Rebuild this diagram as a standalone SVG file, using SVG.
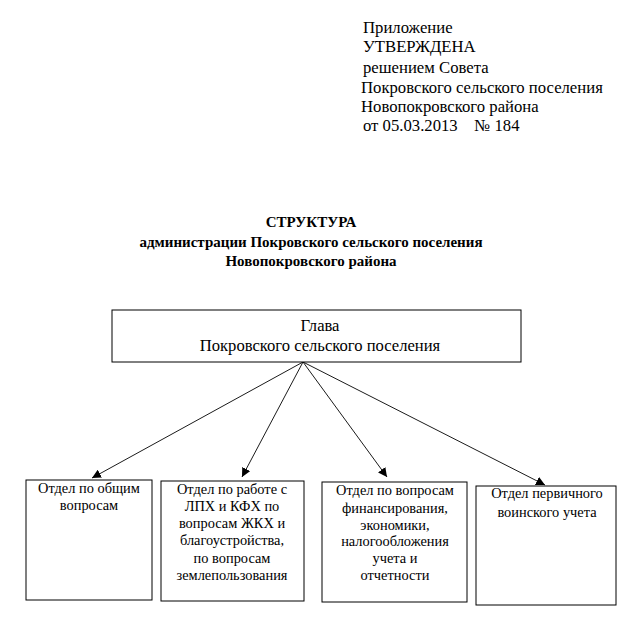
<svg xmlns="http://www.w3.org/2000/svg" width="640" height="628" viewBox="0 0 640 628">
<style>
text{font-family:"Liberation Serif","Times New Roman",serif;fill:#000}
.h{font-size:16.7px}
.t{font-size:15px;font-weight:bold;text-anchor:middle}
.m{font-size:16.6px;text-anchor:middle}
.b{font-size:14.4px;text-anchor:middle}
.box{fill:#fff;stroke:#000;stroke-width:1}
.c{stroke:#000;stroke-width:0.9;fill:none;marker-end:url(#a)}
</style>
<defs>
<marker id="a" viewBox="0 0 10 10" refX="10" refY="5" markerWidth="9" markerHeight="9" markerUnits="userSpaceOnUse" orient="auto">
<path d="M0,0 L10,5 L0,10 z" fill="#000"/>
</marker>
</defs>
<rect width="640" height="628" fill="#fff"/>
<g id="header">
<text class="h" x="363" y="33">Приложение</text>
<text class="h" x="363" y="52">УТВЕРЖДЕНА</text>
<text class="h" x="363" y="73">решением Совета</text>
<text class="h" x="361" y="93">Покровского сельского поселения</text>
<text class="h" x="361" y="112">Новопокровского района</text>
<text class="h" x="363" y="131" xml:space="preserve">от 05.03.2013    № 184</text>
</g>
<g id="title">
<text class="t" x="311" y="227">СТРУКТУРА</text>
<text class="t" x="311" y="247">администрации Покровского сельского поселения</text>
<text class="t" x="311" y="266">Новопокровского района</text>
</g>
<g id="connectors">
<line class="c" x1="303" y1="362" x2="92" y2="478"/>
<line class="c" x1="303" y1="362" x2="242" y2="477"/>
<line class="c" x1="303" y1="362" x2="387" y2="477"/>
<line class="c" x1="303" y1="362" x2="545" y2="485"/>
</g>
<g id="head">
<rect class="box" x="112" y="310" width="409" height="52"/>
<text class="m" x="320" y="331">Глава</text>
<text class="m" x="320" y="351">Покровского сельского поселения</text>
</g>
<g id="dept1">
<rect class="box" x="26" y="480" width="126" height="120"/>
<text class="b" x="89" y="493">Отдел по общим</text>
<text class="b" x="89" y="510">вопросам</text>
</g>
<g id="dept2">
<rect class="box" x="161" y="481" width="143" height="120"/>
<text class="b" x="232" y="494">Отдел по работе с</text>
<text class="b" x="232" y="511">ЛПХ и КФХ по</text>
<text class="b" x="232" y="528">вопросам ЖКХ и</text>
<text class="b" x="232" y="545">благоустройства,</text>
<text class="b" x="232" y="563">по вопросам</text>
<text class="b" x="232" y="580">землепользования</text>
</g>
<g id="dept3">
<rect class="box" x="322" y="482" width="145" height="120"/>
<text class="b" x="395" y="495">Отдел по вопросам</text>
<text class="b" x="395" y="513">финансирования,</text>
<text class="b" x="395" y="530">экономики,</text>
<text class="b" x="395" y="546">налогообложения</text>
<text class="b" x="395" y="563">учета и</text>
<text class="b" x="395" y="580">отчетности</text>
</g>
<g id="dept4">
<rect class="box" x="476" y="486" width="140" height="119"/>
<text class="b" x="547" y="498">Отдел первичного</text>
<text class="b" x="547" y="517">воинского учета</text>
</g>
</svg>
